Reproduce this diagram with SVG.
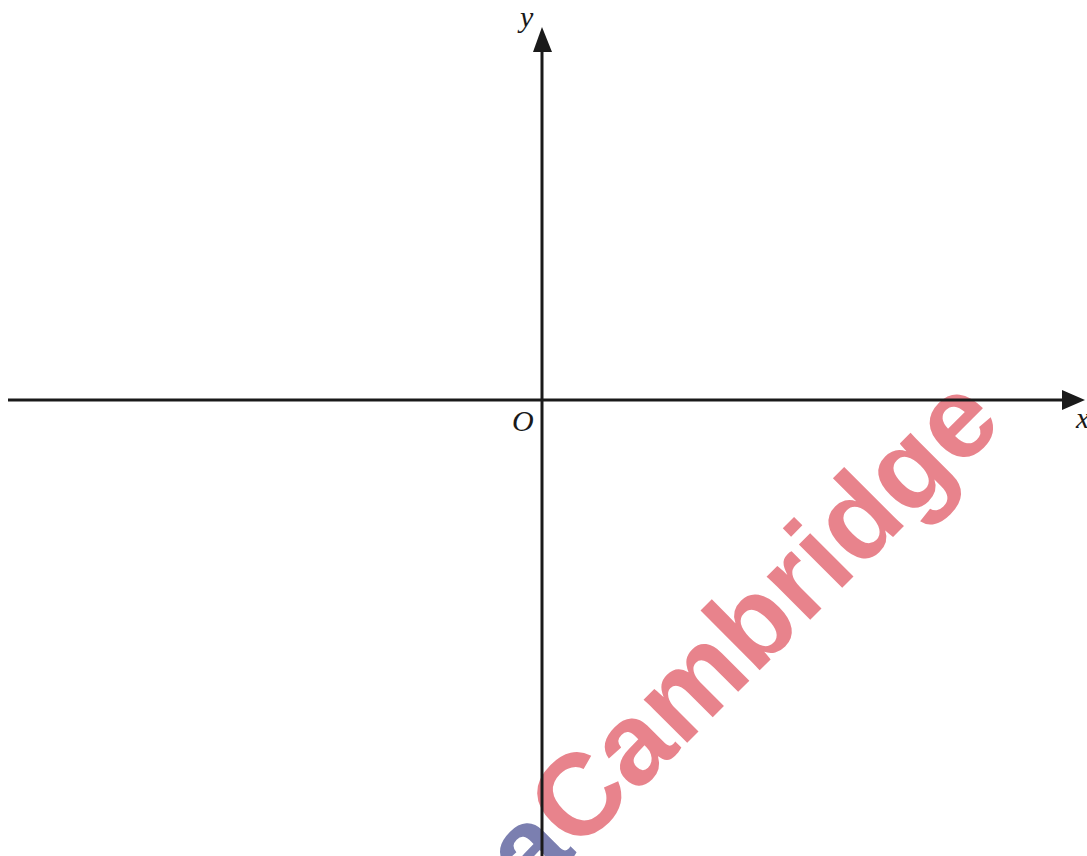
<svg xmlns="http://www.w3.org/2000/svg" width="1087" height="856" viewBox="0 0 1087 856">
<style>
.axis{stroke:#1a1a1a;stroke-width:3;fill:none}
.lbl{font-family:"Liberation Serif","Times New Roman",serif;font-style:italic;font-size:30px;fill:#1a1a1a}
.wm{font-family:"Liberation Sans",Arial,sans-serif;font-weight:bold;font-size:116px}
</style>
<rect width="1087" height="856" fill="#ffffff"/>
<g id="watermark">
<text class="wm" text-anchor="end" transform="translate(1005,425) rotate(-45)"><tspan fill="#7b7fb0">Papa</tspan><tspan fill="#e8838c">Cambridge</tspan></text>
</g>
<g id="connectors">
<line class="axis" x1="8" y1="400" x2="1064" y2="400"/>
<polygon points="1085,400 1062,390 1062,410" fill="#1a1a1a"/>
<line class="axis" x1="542" y1="856" x2="542" y2="50"/>
<polygon points="542,27 533,52 552,52" fill="#1a1a1a"/>
</g>
<g id="label-y"><text class="lbl" x="520" y="27">y</text></g>
<g id="label-O"><text class="lbl" x="512" y="431">O</text></g>
<g id="label-x"><text class="lbl" x="1076" y="428">x</text></g>
</svg>
